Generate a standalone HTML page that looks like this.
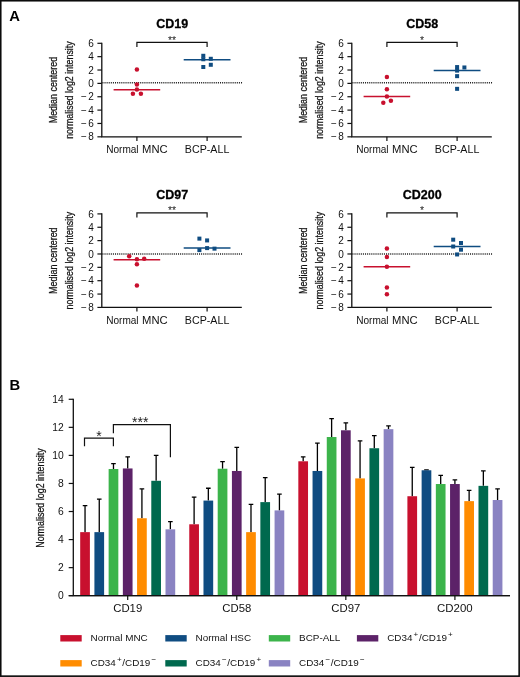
<!DOCTYPE html>
<html><head><meta charset="utf-8"><style>
html,body{margin:0;padding:0;background:#fff;}
body{width:520px;height:677px;overflow:hidden;}
svg{display:block;will-change:transform;}
text{font-family:"Liberation Sans",sans-serif;}
</style></head><body>
<svg width="520" height="677" viewBox="0 0 520 677">
<rect width="520" height="677" fill="#fff"/>
<text x="172.20" y="27.90" font-size="12.5" text-anchor="middle" font-weight="bold" fill="#000" stroke="#000" stroke-width="0.3">CD19</text>
<path d="M101.80 42.70 V136.82 H241.80" stroke="#111" stroke-width="1.3" fill="none"/>
<path d="M97.40 43.30 H101.80" stroke="#111" stroke-width="1.2"/>
<text x="93.80" y="46.90" font-size="10.0" text-anchor="end" font-weight="normal" fill="#111" >6</text>
<path d="M97.40 56.66 H101.80" stroke="#111" stroke-width="1.2"/>
<text x="93.80" y="60.26" font-size="10.0" text-anchor="end" font-weight="normal" fill="#111" >4</text>
<path d="M97.40 70.02 H101.80" stroke="#111" stroke-width="1.2"/>
<text x="93.80" y="73.62" font-size="10.0" text-anchor="end" font-weight="normal" fill="#111" >2</text>
<path d="M97.40 83.38 H101.80" stroke="#111" stroke-width="1.2"/>
<text x="93.80" y="86.98" font-size="10.0" text-anchor="end" font-weight="normal" fill="#111" >0</text>
<path d="M97.40 96.74 H101.80" stroke="#111" stroke-width="1.2"/>
<text x="93.80" y="100.34" font-size="10.0" text-anchor="end" font-weight="normal" fill="#111" >−<tspan dx="1.3">2</tspan></text>
<path d="M97.40 110.10 H101.80" stroke="#111" stroke-width="1.2"/>
<text x="93.80" y="113.70" font-size="10.0" text-anchor="end" font-weight="normal" fill="#111" >−<tspan dx="1.3">4</tspan></text>
<path d="M97.40 123.46 H101.80" stroke="#111" stroke-width="1.2"/>
<text x="93.80" y="127.06" font-size="10.0" text-anchor="end" font-weight="normal" fill="#111" >−<tspan dx="1.3">6</tspan></text>
<path d="M97.40 136.82 H101.80" stroke="#111" stroke-width="1.2"/>
<text x="93.80" y="140.42" font-size="10.0" text-anchor="end" font-weight="normal" fill="#111" >−<tspan dx="1.3">8</tspan></text>
<path d="M136.90 136.82 V141.02" stroke="#111" stroke-width="1.2"/>
<path d="M207.10 136.82 V141.02" stroke="#111" stroke-width="1.2"/>
<text x="106.20" y="153.12" font-size="10.2" text-anchor="start" font-weight="normal" fill="#111" textLength="32.4" lengthAdjust="spacingAndGlyphs" >Normal</text>
<text x="142.10" y="153.12" font-size="10.2" text-anchor="start" font-weight="normal" fill="#111" textLength="25.6" lengthAdjust="spacingAndGlyphs" >MNC</text>
<text x="207.10" y="153.12" font-size="10.2" text-anchor="middle" font-weight="normal" fill="#111" textLength="44.5" lengthAdjust="spacingAndGlyphs" >BCP-ALL</text>
<path d="M102.40 82.83 H242.80" stroke="#222" stroke-width="1.5" stroke-dasharray="1.05 1.05"/>
<path d="M136.90 46.90 V42.30 H207.10 V46.90" stroke="#111" stroke-width="1.2" fill="none"/>
<text x="172.00" y="43.70" font-size="10.5" text-anchor="middle" font-weight="normal" fill="#222" >**</text>
<path d="M113.60 89.84 H160.20" stroke="#c8102e" stroke-width="1.5"/>
<path d="M183.70 59.78 H230.50" stroke="#0f4c81" stroke-width="1.5"/>
<circle cx="136.90" cy="69.47" r="2.25" fill="#c8102e"/>
<circle cx="136.90" cy="84.50" r="2.25" fill="#c8102e"/>
<circle cx="136.90" cy="89.51" r="2.25" fill="#c8102e"/>
<circle cx="132.90" cy="93.85" r="2.25" fill="#c8102e"/>
<circle cx="140.90" cy="93.85" r="2.25" fill="#c8102e"/>
<rect x="201.30" y="53.78" width="4" height="4" fill="#0f4c81"/>
<rect x="201.30" y="57.25" width="4" height="4" fill="#0f4c81"/>
<rect x="201.30" y="65.00" width="4" height="4" fill="#0f4c81"/>
<rect x="208.80" y="56.78" width="4" height="4" fill="#0f4c81"/>
<rect x="208.80" y="62.79" width="4" height="4" fill="#0f4c81"/>
<g transform="translate(57.30,90.06) rotate(-90)"><text x="0" y="0" font-size="11.3" text-anchor="middle" fill="#111" stroke="#111" stroke-width="0.25" textLength="66.5" lengthAdjust="spacingAndGlyphs">Median centered</text></g>
<g transform="translate(72.90,90.06) rotate(-90)"><text x="0" y="0" font-size="11.3" text-anchor="middle" fill="#111" stroke="#111" stroke-width="0.25" textLength="97.6" lengthAdjust="spacingAndGlyphs">normalised log2 intensity</text></g>
<text x="422.20" y="27.90" font-size="12.5" text-anchor="middle" font-weight="bold" fill="#000" stroke="#000" stroke-width="0.3">CD58</text>
<path d="M351.80 42.70 V136.82 H491.80" stroke="#111" stroke-width="1.3" fill="none"/>
<path d="M347.40 43.30 H351.80" stroke="#111" stroke-width="1.2"/>
<text x="343.80" y="46.90" font-size="10.0" text-anchor="end" font-weight="normal" fill="#111" >6</text>
<path d="M347.40 56.66 H351.80" stroke="#111" stroke-width="1.2"/>
<text x="343.80" y="60.26" font-size="10.0" text-anchor="end" font-weight="normal" fill="#111" >4</text>
<path d="M347.40 70.02 H351.80" stroke="#111" stroke-width="1.2"/>
<text x="343.80" y="73.62" font-size="10.0" text-anchor="end" font-weight="normal" fill="#111" >2</text>
<path d="M347.40 83.38 H351.80" stroke="#111" stroke-width="1.2"/>
<text x="343.80" y="86.98" font-size="10.0" text-anchor="end" font-weight="normal" fill="#111" >0</text>
<path d="M347.40 96.74 H351.80" stroke="#111" stroke-width="1.2"/>
<text x="343.80" y="100.34" font-size="10.0" text-anchor="end" font-weight="normal" fill="#111" >−<tspan dx="1.3">2</tspan></text>
<path d="M347.40 110.10 H351.80" stroke="#111" stroke-width="1.2"/>
<text x="343.80" y="113.70" font-size="10.0" text-anchor="end" font-weight="normal" fill="#111" >−<tspan dx="1.3">4</tspan></text>
<path d="M347.40 123.46 H351.80" stroke="#111" stroke-width="1.2"/>
<text x="343.80" y="127.06" font-size="10.0" text-anchor="end" font-weight="normal" fill="#111" >−<tspan dx="1.3">6</tspan></text>
<path d="M347.40 136.82 H351.80" stroke="#111" stroke-width="1.2"/>
<text x="343.80" y="140.42" font-size="10.0" text-anchor="end" font-weight="normal" fill="#111" >−<tspan dx="1.3">8</tspan></text>
<path d="M386.90 136.82 V141.02" stroke="#111" stroke-width="1.2"/>
<path d="M457.10 136.82 V141.02" stroke="#111" stroke-width="1.2"/>
<text x="356.20" y="153.12" font-size="10.2" text-anchor="start" font-weight="normal" fill="#111" textLength="32.4" lengthAdjust="spacingAndGlyphs" >Normal</text>
<text x="392.10" y="153.12" font-size="10.2" text-anchor="start" font-weight="normal" fill="#111" textLength="25.6" lengthAdjust="spacingAndGlyphs" >MNC</text>
<text x="457.10" y="153.12" font-size="10.2" text-anchor="middle" font-weight="normal" fill="#111" textLength="44.5" lengthAdjust="spacingAndGlyphs" >BCP-ALL</text>
<path d="M352.40 82.83 H492.80" stroke="#222" stroke-width="1.5" stroke-dasharray="1.05 1.05"/>
<path d="M386.90 46.90 V42.30 H457.10 V46.90" stroke="#111" stroke-width="1.2" fill="none"/>
<text x="422.00" y="43.70" font-size="10.5" text-anchor="middle" font-weight="normal" fill="#222" >*</text>
<path d="M363.60 96.39 H410.20" stroke="#c8102e" stroke-width="1.5"/>
<path d="M433.70 70.61 H480.50" stroke="#0f4c81" stroke-width="1.5"/>
<circle cx="386.90" cy="76.95" r="2.25" fill="#c8102e"/>
<circle cx="386.90" cy="89.18" r="2.25" fill="#c8102e"/>
<circle cx="386.90" cy="96.52" r="2.25" fill="#c8102e"/>
<circle cx="383.30" cy="102.67" r="2.25" fill="#c8102e"/>
<circle cx="390.90" cy="100.87" r="2.25" fill="#c8102e"/>
<rect x="455.10" y="65.07" width="4" height="4" fill="#0f4c81"/>
<rect x="455.10" y="68.61" width="4" height="4" fill="#0f4c81"/>
<rect x="455.10" y="74.15" width="4" height="4" fill="#0f4c81"/>
<rect x="455.10" y="86.84" width="4" height="4" fill="#0f4c81"/>
<rect x="462.40" y="65.47" width="4" height="4" fill="#0f4c81"/>
<g transform="translate(307.30,90.06) rotate(-90)"><text x="0" y="0" font-size="11.3" text-anchor="middle" fill="#111" stroke="#111" stroke-width="0.25" textLength="66.5" lengthAdjust="spacingAndGlyphs">Median centered</text></g>
<g transform="translate(322.90,90.06) rotate(-90)"><text x="0" y="0" font-size="11.3" text-anchor="middle" fill="#111" stroke="#111" stroke-width="0.25" textLength="97.6" lengthAdjust="spacingAndGlyphs">normalised log2 intensity</text></g>
<text x="172.20" y="198.50" font-size="12.5" text-anchor="middle" font-weight="bold" fill="#000" stroke="#000" stroke-width="0.3">CD97</text>
<path d="M101.80 213.30 V307.42 H241.80" stroke="#111" stroke-width="1.3" fill="none"/>
<path d="M97.40 213.90 H101.80" stroke="#111" stroke-width="1.2"/>
<text x="93.80" y="217.50" font-size="10.0" text-anchor="end" font-weight="normal" fill="#111" >6</text>
<path d="M97.40 227.26 H101.80" stroke="#111" stroke-width="1.2"/>
<text x="93.80" y="230.86" font-size="10.0" text-anchor="end" font-weight="normal" fill="#111" >4</text>
<path d="M97.40 240.62 H101.80" stroke="#111" stroke-width="1.2"/>
<text x="93.80" y="244.22" font-size="10.0" text-anchor="end" font-weight="normal" fill="#111" >2</text>
<path d="M97.40 253.98 H101.80" stroke="#111" stroke-width="1.2"/>
<text x="93.80" y="257.58" font-size="10.0" text-anchor="end" font-weight="normal" fill="#111" >0</text>
<path d="M97.40 267.34 H101.80" stroke="#111" stroke-width="1.2"/>
<text x="93.80" y="270.94" font-size="10.0" text-anchor="end" font-weight="normal" fill="#111" >−<tspan dx="1.3">2</tspan></text>
<path d="M97.40 280.70 H101.80" stroke="#111" stroke-width="1.2"/>
<text x="93.80" y="284.30" font-size="10.0" text-anchor="end" font-weight="normal" fill="#111" >−<tspan dx="1.3">4</tspan></text>
<path d="M97.40 294.06 H101.80" stroke="#111" stroke-width="1.2"/>
<text x="93.80" y="297.66" font-size="10.0" text-anchor="end" font-weight="normal" fill="#111" >−<tspan dx="1.3">6</tspan></text>
<path d="M97.40 307.42 H101.80" stroke="#111" stroke-width="1.2"/>
<text x="93.80" y="311.02" font-size="10.0" text-anchor="end" font-weight="normal" fill="#111" >−<tspan dx="1.3">8</tspan></text>
<path d="M136.90 307.42 V311.62" stroke="#111" stroke-width="1.2"/>
<path d="M207.10 307.42 V311.62" stroke="#111" stroke-width="1.2"/>
<text x="106.20" y="323.72" font-size="10.2" text-anchor="start" font-weight="normal" fill="#111" textLength="32.4" lengthAdjust="spacingAndGlyphs" >Normal</text>
<text x="142.10" y="323.72" font-size="10.2" text-anchor="start" font-weight="normal" fill="#111" textLength="25.6" lengthAdjust="spacingAndGlyphs" >MNC</text>
<text x="207.10" y="323.72" font-size="10.2" text-anchor="middle" font-weight="normal" fill="#111" textLength="44.5" lengthAdjust="spacingAndGlyphs" >BCP-ALL</text>
<path d="M102.40 253.98 H242.80" stroke="#222" stroke-width="1.5" stroke-dasharray="1.05 1.05"/>
<path d="M136.90 217.50 V212.90 H207.10 V217.50" stroke="#111" stroke-width="1.2" fill="none"/>
<text x="172.00" y="214.30" font-size="10.5" text-anchor="middle" font-weight="normal" fill="#222" >**</text>
<path d="M113.60 259.66 H160.20" stroke="#c8102e" stroke-width="1.5"/>
<path d="M183.70 248.10 H230.50" stroke="#0f4c81" stroke-width="1.5"/>
<circle cx="129.20" cy="256.18" r="2.25" fill="#c8102e"/>
<circle cx="136.90" cy="259.32" r="2.25" fill="#c8102e"/>
<circle cx="144.20" cy="258.86" r="2.25" fill="#c8102e"/>
<circle cx="136.90" cy="264.27" r="2.25" fill="#c8102e"/>
<circle cx="136.90" cy="285.38" r="2.25" fill="#c8102e"/>
<rect x="197.40" y="236.62" width="4" height="4" fill="#0f4c81"/>
<rect x="205.10" y="238.42" width="4" height="4" fill="#0f4c81"/>
<rect x="197.40" y="248.11" width="4" height="4" fill="#0f4c81"/>
<rect x="205.10" y="246.10" width="4" height="4" fill="#0f4c81"/>
<rect x="212.50" y="246.64" width="4" height="4" fill="#0f4c81"/>
<g transform="translate(57.30,260.66) rotate(-90)"><text x="0" y="0" font-size="11.3" text-anchor="middle" fill="#111" stroke="#111" stroke-width="0.25" textLength="66.5" lengthAdjust="spacingAndGlyphs">Median centered</text></g>
<g transform="translate(72.90,260.66) rotate(-90)"><text x="0" y="0" font-size="11.3" text-anchor="middle" fill="#111" stroke="#111" stroke-width="0.25" textLength="97.6" lengthAdjust="spacingAndGlyphs">normalised log2 intensity</text></g>
<text x="422.20" y="198.50" font-size="12.5" text-anchor="middle" font-weight="bold" fill="#000" stroke="#000" stroke-width="0.3">CD200</text>
<path d="M351.80 213.30 V307.42 H491.80" stroke="#111" stroke-width="1.3" fill="none"/>
<path d="M347.40 213.90 H351.80" stroke="#111" stroke-width="1.2"/>
<text x="343.80" y="217.50" font-size="10.0" text-anchor="end" font-weight="normal" fill="#111" >6</text>
<path d="M347.40 227.26 H351.80" stroke="#111" stroke-width="1.2"/>
<text x="343.80" y="230.86" font-size="10.0" text-anchor="end" font-weight="normal" fill="#111" >4</text>
<path d="M347.40 240.62 H351.80" stroke="#111" stroke-width="1.2"/>
<text x="343.80" y="244.22" font-size="10.0" text-anchor="end" font-weight="normal" fill="#111" >2</text>
<path d="M347.40 253.98 H351.80" stroke="#111" stroke-width="1.2"/>
<text x="343.80" y="257.58" font-size="10.0" text-anchor="end" font-weight="normal" fill="#111" >0</text>
<path d="M347.40 267.34 H351.80" stroke="#111" stroke-width="1.2"/>
<text x="343.80" y="270.94" font-size="10.0" text-anchor="end" font-weight="normal" fill="#111" >−<tspan dx="1.3">2</tspan></text>
<path d="M347.40 280.70 H351.80" stroke="#111" stroke-width="1.2"/>
<text x="343.80" y="284.30" font-size="10.0" text-anchor="end" font-weight="normal" fill="#111" >−<tspan dx="1.3">4</tspan></text>
<path d="M347.40 294.06 H351.80" stroke="#111" stroke-width="1.2"/>
<text x="343.80" y="297.66" font-size="10.0" text-anchor="end" font-weight="normal" fill="#111" >−<tspan dx="1.3">6</tspan></text>
<path d="M347.40 307.42 H351.80" stroke="#111" stroke-width="1.2"/>
<text x="343.80" y="311.02" font-size="10.0" text-anchor="end" font-weight="normal" fill="#111" >−<tspan dx="1.3">8</tspan></text>
<path d="M386.90 307.42 V311.62" stroke="#111" stroke-width="1.2"/>
<path d="M457.10 307.42 V311.62" stroke="#111" stroke-width="1.2"/>
<text x="356.20" y="323.72" font-size="10.2" text-anchor="start" font-weight="normal" fill="#111" textLength="32.4" lengthAdjust="spacingAndGlyphs" >Normal</text>
<text x="392.10" y="323.72" font-size="10.2" text-anchor="start" font-weight="normal" fill="#111" textLength="25.6" lengthAdjust="spacingAndGlyphs" >MNC</text>
<text x="457.10" y="323.72" font-size="10.2" text-anchor="middle" font-weight="normal" fill="#111" textLength="44.5" lengthAdjust="spacingAndGlyphs" >BCP-ALL</text>
<path d="M352.40 253.98 H492.80" stroke="#222" stroke-width="1.5" stroke-dasharray="1.05 1.05"/>
<path d="M386.90 217.50 V212.90 H457.10 V217.50" stroke="#111" stroke-width="1.2" fill="none"/>
<text x="422.00" y="214.30" font-size="10.5" text-anchor="middle" font-weight="normal" fill="#222" >*</text>
<path d="M363.60 266.67 H410.20" stroke="#c8102e" stroke-width="1.5"/>
<path d="M433.70 246.50 H480.50" stroke="#0f4c81" stroke-width="1.5"/>
<circle cx="386.90" cy="248.44" r="2.25" fill="#c8102e"/>
<circle cx="386.90" cy="256.99" r="2.25" fill="#c8102e"/>
<circle cx="386.90" cy="266.81" r="2.25" fill="#c8102e"/>
<circle cx="386.90" cy="287.38" r="2.25" fill="#c8102e"/>
<circle cx="386.90" cy="294.19" r="2.25" fill="#c8102e"/>
<rect x="451.20" y="237.68" width="4" height="4" fill="#0f4c81"/>
<rect x="451.20" y="244.50" width="4" height="4" fill="#0f4c81"/>
<rect x="459.00" y="241.02" width="4" height="4" fill="#0f4c81"/>
<rect x="459.00" y="247.70" width="4" height="4" fill="#0f4c81"/>
<rect x="455.10" y="252.45" width="4" height="4" fill="#0f4c81"/>
<g transform="translate(307.30,260.66) rotate(-90)"><text x="0" y="0" font-size="11.3" text-anchor="middle" fill="#111" stroke="#111" stroke-width="0.25" textLength="66.5" lengthAdjust="spacingAndGlyphs">Median centered</text></g>
<g transform="translate(322.90,260.66) rotate(-90)"><text x="0" y="0" font-size="11.3" text-anchor="middle" fill="#111" stroke="#111" stroke-width="0.25" textLength="97.6" lengthAdjust="spacingAndGlyphs">normalised log2 intensity</text></g>
<text x="9.30" y="21.20" font-size="14.8" text-anchor="start" font-weight="bold" fill="#000" >A</text>
<text x="9.50" y="389.60" font-size="14.8" text-anchor="start" font-weight="bold" fill="#000" >B</text>
<path d="M73.30 398.68 V595.70 H510" stroke="#111" stroke-width="1.3" fill="none"/>
<path d="M68.70 595.70 H73.30" stroke="#111" stroke-width="1.2"/>
<text x="63.70" y="599.00" font-size="10.3" text-anchor="end" font-weight="normal" fill="#111" >0</text>
<path d="M68.70 567.64 H73.30" stroke="#111" stroke-width="1.2"/>
<text x="63.70" y="570.94" font-size="10.3" text-anchor="end" font-weight="normal" fill="#111" >2</text>
<path d="M68.70 539.58 H73.30" stroke="#111" stroke-width="1.2"/>
<text x="63.70" y="542.88" font-size="10.3" text-anchor="end" font-weight="normal" fill="#111" >4</text>
<path d="M68.70 511.52 H73.30" stroke="#111" stroke-width="1.2"/>
<text x="63.70" y="514.82" font-size="10.3" text-anchor="end" font-weight="normal" fill="#111" >6</text>
<path d="M68.70 483.46 H73.30" stroke="#111" stroke-width="1.2"/>
<text x="63.70" y="486.76" font-size="10.3" text-anchor="end" font-weight="normal" fill="#111" >8</text>
<path d="M68.70 455.40 H73.30" stroke="#111" stroke-width="1.2"/>
<text x="63.70" y="458.70" font-size="10.3" text-anchor="end" font-weight="normal" fill="#111" >10</text>
<path d="M68.70 427.34 H73.30" stroke="#111" stroke-width="1.2"/>
<text x="63.70" y="430.64" font-size="10.3" text-anchor="end" font-weight="normal" fill="#111" >12</text>
<path d="M68.70 399.28 H73.30" stroke="#111" stroke-width="1.2"/>
<text x="63.70" y="402.58" font-size="10.3" text-anchor="end" font-weight="normal" fill="#111" >14</text>
<path d="M85.04 532.14 V505.63 M82.74 505.63 H87.34" stroke="#000" stroke-width="1.3" fill="none"/>
<rect x="80.19" y="532.14" width="9.7" height="63.56" fill="#c8102e"/>
<path d="M99.26 532.14 V499.17 M96.96 499.17 H101.56" stroke="#000" stroke-width="1.3" fill="none"/>
<rect x="94.41" y="532.14" width="9.7" height="63.56" fill="#0f4c81"/>
<path d="M113.48 469.01 V463.68 M111.18 463.68 H115.78" stroke="#000" stroke-width="1.3" fill="none"/>
<rect x="108.63" y="469.01" width="9.7" height="126.69" fill="#3cb44b"/>
<path d="M127.70 468.45 V456.94 M125.40 456.94 H130.00" stroke="#000" stroke-width="1.3" fill="none"/>
<rect x="122.85" y="468.45" width="9.7" height="127.25" fill="#5c2268"/>
<path d="M141.92 518.25 V488.79 M139.62 488.79 H144.22" stroke="#000" stroke-width="1.3" fill="none"/>
<rect x="137.07" y="518.25" width="9.7" height="77.45" fill="#ff8c00"/>
<path d="M156.14 480.79 V455.40 M153.84 455.40 H158.44" stroke="#000" stroke-width="1.3" fill="none"/>
<rect x="151.29" y="480.79" width="9.7" height="114.91" fill="#00694e"/>
<path d="M170.36 529.34 V521.62 M168.06 521.62 H172.66" stroke="#000" stroke-width="1.3" fill="none"/>
<rect x="165.51" y="529.34" width="9.7" height="66.36" fill="#8a83c2"/>
<path d="M127.70 595.70 V600.10" stroke="#111" stroke-width="1.2"/>
<text x="127.70" y="611.60" font-size="10.2" text-anchor="middle" font-weight="normal" fill="#111" textLength="29" lengthAdjust="spacingAndGlyphs" >CD19</text>
<path d="M194.11 524.29 V497.07 M191.81 497.07 H196.41" stroke="#000" stroke-width="1.3" fill="none"/>
<rect x="189.26" y="524.29" width="9.7" height="71.41" fill="#c8102e"/>
<path d="M208.33 500.58 V488.23 M206.03 488.23 H210.63" stroke="#000" stroke-width="1.3" fill="none"/>
<rect x="203.48" y="500.58" width="9.7" height="95.12" fill="#0f4c81"/>
<path d="M222.55 468.73 V461.57 M220.25 461.57 H224.85" stroke="#000" stroke-width="1.3" fill="none"/>
<rect x="217.70" y="468.73" width="9.7" height="126.97" fill="#3cb44b"/>
<path d="M236.77 470.97 V447.40 M234.47 447.40 H239.07" stroke="#000" stroke-width="1.3" fill="none"/>
<rect x="231.92" y="470.97" width="9.7" height="124.73" fill="#5c2268"/>
<path d="M250.99 532.14 V504.36 M248.69 504.36 H253.29" stroke="#000" stroke-width="1.3" fill="none"/>
<rect x="246.14" y="532.14" width="9.7" height="63.56" fill="#ff8c00"/>
<path d="M265.21 502.12 V477.57 M262.91 477.57 H267.51" stroke="#000" stroke-width="1.3" fill="none"/>
<rect x="260.36" y="502.12" width="9.7" height="93.58" fill="#00694e"/>
<path d="M279.43 510.40 V494.12 M277.13 494.12 H281.73" stroke="#000" stroke-width="1.3" fill="none"/>
<rect x="274.58" y="510.40" width="9.7" height="85.30" fill="#8a83c2"/>
<path d="M236.77 595.70 V600.10" stroke="#111" stroke-width="1.2"/>
<text x="236.77" y="611.60" font-size="10.2" text-anchor="middle" font-weight="normal" fill="#111" textLength="29" lengthAdjust="spacingAndGlyphs" >CD58</text>
<path d="M303.18 461.29 V456.94 M300.88 456.94 H305.48" stroke="#000" stroke-width="1.3" fill="none"/>
<rect x="298.33" y="461.29" width="9.7" height="134.41" fill="#c8102e"/>
<path d="M317.40 470.97 V443.05 M315.10 443.05 H319.70" stroke="#000" stroke-width="1.3" fill="none"/>
<rect x="312.55" y="470.97" width="9.7" height="124.73" fill="#0f4c81"/>
<path d="M331.62 437.02 V418.64 M329.32 418.64 H333.92" stroke="#000" stroke-width="1.3" fill="none"/>
<rect x="326.77" y="437.02" width="9.7" height="158.68" fill="#3cb44b"/>
<path d="M345.84 430.29 V422.85 M343.54 422.85 H348.14" stroke="#000" stroke-width="1.3" fill="none"/>
<rect x="340.99" y="430.29" width="9.7" height="165.41" fill="#5c2268"/>
<path d="M360.06 478.41 V440.95 M357.76 440.95 H362.36" stroke="#000" stroke-width="1.3" fill="none"/>
<rect x="355.21" y="478.41" width="9.7" height="117.29" fill="#ff8c00"/>
<path d="M374.28 448.24 V435.62 M371.98 435.62 H376.58" stroke="#000" stroke-width="1.3" fill="none"/>
<rect x="369.43" y="448.24" width="9.7" height="147.46" fill="#00694e"/>
<path d="M388.50 429.16 V425.80 M386.20 425.80 H390.80" stroke="#000" stroke-width="1.3" fill="none"/>
<rect x="383.65" y="429.16" width="9.7" height="166.54" fill="#8a83c2"/>
<path d="M345.84 595.70 V600.10" stroke="#111" stroke-width="1.2"/>
<text x="345.84" y="611.60" font-size="10.2" text-anchor="middle" font-weight="normal" fill="#111" textLength="29" lengthAdjust="spacingAndGlyphs" >CD97</text>
<path d="M412.25 496.23 V467.47 M409.95 467.47 H414.55" stroke="#000" stroke-width="1.3" fill="none"/>
<rect x="407.40" y="496.23" width="9.7" height="99.47" fill="#c8102e"/>
<path d="M426.47 470.27 V469.85 M424.17 469.85 H428.77" stroke="#000" stroke-width="1.3" fill="none"/>
<rect x="421.62" y="470.27" width="9.7" height="125.43" fill="#0f4c81"/>
<path d="M440.69 484.02 V475.46 M438.39 475.46 H442.99" stroke="#000" stroke-width="1.3" fill="none"/>
<rect x="435.84" y="484.02" width="9.7" height="111.68" fill="#3cb44b"/>
<path d="M454.91 484.02 V479.95 M452.61 479.95 H457.21" stroke="#000" stroke-width="1.3" fill="none"/>
<rect x="450.06" y="484.02" width="9.7" height="111.68" fill="#5c2268"/>
<path d="M469.13 501.14 V490.33 M466.83 490.33 H471.43" stroke="#000" stroke-width="1.3" fill="none"/>
<rect x="464.28" y="501.14" width="9.7" height="94.56" fill="#ff8c00"/>
<path d="M483.35 485.85 V470.97 M481.05 470.97 H485.65" stroke="#000" stroke-width="1.3" fill="none"/>
<rect x="478.50" y="485.85" width="9.7" height="109.85" fill="#00694e"/>
<path d="M497.57 500.02 V488.79 M495.27 488.79 H499.87" stroke="#000" stroke-width="1.3" fill="none"/>
<rect x="492.72" y="500.02" width="9.7" height="95.68" fill="#8a83c2"/>
<path d="M454.91 595.70 V600.10" stroke="#111" stroke-width="1.2"/>
<text x="454.91" y="611.60" font-size="10.2" text-anchor="middle" font-weight="normal" fill="#111" textLength="35.6" lengthAdjust="spacingAndGlyphs" >CD200</text>
<path d="M68.70 595.70 H510" stroke="#111" stroke-width="1.3" fill="none"/>
<path d="M84.5 446.2 V438.1 H113.4 V446.2" stroke="#111" stroke-width="1.2" fill="none"/>
<text x="98.90" y="441.20" font-size="14" text-anchor="middle" font-weight="normal" fill="#222" >*</text>
<path d="M113.4 433.3 V424.7 H170.4 V457.3" stroke="#111" stroke-width="1.2" fill="none"/>
<text x="140.30" y="426.80" font-size="14" text-anchor="middle" font-weight="normal" fill="#222" >***</text>
<g transform="translate(43.6,498.0) rotate(-90)"><text x="0" y="0" font-size="11.3" text-anchor="middle" fill="#111" stroke="#111" stroke-width="0.25" textLength="99.5" lengthAdjust="spacingAndGlyphs">Normalised log2 intensity</text></g>
<rect x="60.3" y="635.1" width="21.4" height="6.4" fill="#c8102e"/>
<text x="90.60" y="640.50" font-size="9.9" text-anchor="start" font-weight="normal" fill="#111" >Normal MNC</text>
<rect x="165.3" y="635.1" width="21.4" height="6.4" fill="#0f4c81"/>
<text x="195.60" y="640.50" font-size="9.9" text-anchor="start" font-weight="normal" fill="#111" >Normal HSC</text>
<rect x="268.8" y="635.1" width="21.4" height="6.4" fill="#3cb44b"/>
<text x="299.10" y="640.50" font-size="9.9" text-anchor="start" font-weight="normal" fill="#111" >BCP-ALL</text>
<rect x="356.9" y="635.1" width="21.4" height="6.4" fill="#5c2268"/>
<text x="387.20" y="640.50" font-size="9.9" text-anchor="start" font-weight="normal" fill="#111" >CD34<tspan font-size="8" dx="1.1" dy="-3.4">+</tspan><tspan dx="0.7" dy="3.4">/CD19</tspan><tspan font-size="8" dx="1.1" dy="-3.4">+</tspan></text>
<rect x="60.3" y="660.1" width="21.4" height="6.4" fill="#ff8c00"/>
<text x="90.60" y="665.50" font-size="9.9" text-anchor="start" font-weight="normal" fill="#111" >CD34<tspan font-size="8" dx="1.1" dy="-3.4">+</tspan><tspan dx="0.7" dy="3.4">/CD19</tspan><tspan font-size="8" dx="1.1" dy="-3.4">−</tspan></text>
<rect x="165.3" y="660.1" width="21.4" height="6.4" fill="#00694e"/>
<text x="195.60" y="665.50" font-size="9.9" text-anchor="start" font-weight="normal" fill="#111" >CD34<tspan font-size="8" dx="1.1" dy="-3.4">−</tspan><tspan dx="0.7" dy="3.4">/CD19</tspan><tspan font-size="8" dx="1.1" dy="-3.4">+</tspan></text>
<rect x="268.8" y="660.1" width="21.4" height="6.4" fill="#8a83c2"/>
<text x="299.10" y="665.50" font-size="9.9" text-anchor="start" font-weight="normal" fill="#111" >CD34<tspan font-size="8" dx="1.1" dy="-3.4">−</tspan><tspan dx="0.7" dy="3.4">/CD19</tspan><tspan font-size="8" dx="1.1" dy="-3.4">−</tspan></text>
<rect x="0.75" y="0.75" width="518.4" height="675.4" fill="none" stroke="#0a0a0a" stroke-width="1.6"/>
</svg>
</body></html>
